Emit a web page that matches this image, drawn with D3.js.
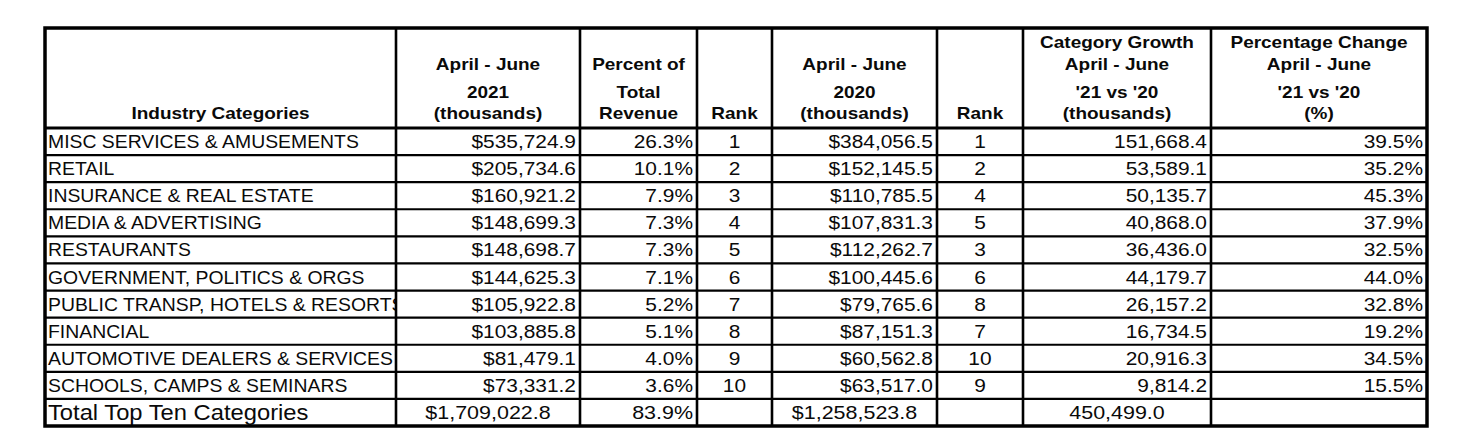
<!DOCTYPE html>
<html>
<head>
<meta charset="utf-8">
<script src="https://cdn.jsdelivr.net/npm/d3@7"></script>
<style>
  body { margin: 0; background: #fff; }
  svg text { font-family: "Liberation Sans", Arial, sans-serif; fill: #0a0a0a; }
</style>
</head>
<body>
<svg id="chart" width="1464" height="440"></svg>
<script>
// table data
const categories = [
    'MISC SERVICES & AMUSEMENTS',
    'RETAIL',
    'INSURANCE & REAL ESTATE',
    'MEDIA & ADVERTISING',
    'RESTAURANTS',
    'GOVERNMENT, POLITICS & ORGS',
    'PUBLIC TRANSP, HOTELS & RESORTS',
    'FINANCIAL',
    'AUTOMOTIVE DEALERS & SERVICES',
    'SCHOOLS, CAMPS & SEMINARS'
];
const revenue2021 = [535724.9, 205734.6, 160921.2, 148699.3, 148698.7, 144625.3, 105922.8, 103885.8, 81479.1, 73331.2];
const shareOfTotal = [0.263, 0.101, 0.079, 0.073, 0.073, 0.071, 0.052, 0.051, 0.040, 0.036];
const rank2021 = [1, 2, 3, 4, 5, 6, 7, 8, 9, 10];
const revenue2020 = [384056.5, 152145.5, 110785.5, 107831.3, 112262.7, 100445.6, 79765.6, 87151.3, 60562.8, 63517.0];
const rank2020 = [1, 2, 4, 5, 3, 6, 8, 7, 10, 9];
const growth = [151668.4, 53589.1, 50135.7, 40868.0, 36436.0, 44179.7, 26157.2, 16734.5, 20916.3, 9814.2];
const pctChange = [0.395, 0.352, 0.453, 0.379, 0.325, 0.440, 0.328, 0.192, 0.345, 0.155];

const totalLabel = 'Total Top Ten Categories';
const totals = [1709022.8, 0.839, null, 1258523.8, null, 450499.0, null];

const headers = [
    ['', '', '', 'Industry Categories'],
    ['', 'April - June', '2021', '(thousands)'],
    ['', 'Percent of', 'Total', 'Revenue'],
    ['', '', '', 'Rank'],
    ['', 'April - June', '2020', '(thousands)'],
    ['', '', '', 'Rank'],
    ['Category Growth', 'April - June', "'21 vs '20", '(thousands)'],
    ['Percentage Change', 'April - June', "'21 vs '20", '(%)']
];

const money = d3.format('$,.1f');
const pct = d3.format('.1%');
const num = d3.format(',.1f');

// layout
const colEdges = [45, 396, 580, 697, 772, 937, 1023, 1211, 1427];
const headTop = 28;
const headBottom = 128;
const tableBottom = 426;
const headBaselines = [47.5, 70, 97.5, 118.5];

// the source text is a bit wider than plain Arial, so stretch it
const stretchHead = 1.15;
const stretchCat = 1.02;
const stretchNum = 1.1;

const columns = [
    {values: categories, fmt: d => d, align: 'start', sx: stretchCat},
    {values: revenue2021, fmt: money, align: 'end', sx: stretchNum},
    {values: shareOfTotal, fmt: pct, align: 'end', sx: stretchNum},
    {values: rank2021, fmt: d => d, align: 'middle', sx: stretchNum},
    {values: revenue2020, fmt: money, align: 'end', sx: stretchNum},
    {values: rank2020, fmt: d => d, align: 'middle', sx: stretchNum},
    {values: growth, fmt: num, align: 'end', sx: stretchNum},
    {values: pctChange, fmt: pct, align: 'end', sx: stretchNum}
];
const totalAlign = ['middle', 'end', 'middle', 'middle', 'middle', 'middle', 'middle'];
const totalFmt = [money, pct, null, money, null, num, null];

const svg = d3.select('#chart');

const y = d3.scaleBand()
    .domain([...categories, totalLabel])
    .range([headBottom, tableBottom]);

const textX = (i, align) => {
    if (align === 'start') return colEdges[i] + 3;
    if (align === 'end') return colEdges[i + 1] - 4;
    return (colEdges[i] + colEdges[i + 1]) / 2;
};

const place = (x, yy, sx) => 'translate(' + x + ',' + yy + ') scale(' + sx + ',1)';

// clip each column so long labels are cut at the border
const defs = svg.append('defs');
colEdges.slice(0, -1).forEach((x0, i) => {
    defs.append('clipPath')
        .attr('id', 'clip-' + i)
        .append('rect')
        .attr('x', x0)
        .attr('y', headTop)
        .attr('width', colEdges[i + 1] - x0)
        .attr('height', tableBottom - headTop);
});

// headers
headers.forEach((lines, i) => {
    svg.append('g')
        .selectAll('text')
        .data(lines)
        .join('text')
        .attr('transform', (d, j) => place((colEdges[i] + colEdges[i + 1]) / 2, headBaselines[j], stretchHead))
        .attr('text-anchor', 'middle')
        .style('font-size', '16.5px')
        .style('font-weight', 'bold')
        .text(d => d);
});

// body cells
columns.forEach((col, i) => {
    svg.append('g')
        .attr('clip-path', 'url(#clip-' + i + ')')
        .selectAll('text')
        .data(col.values)
        .join('text')
        .attr('transform', (d, j) => place(textX(i, col.align), y(categories[j]) + y.bandwidth() / 2 + 6.5, col.sx))
        .attr('text-anchor', col.align)
        .style('font-size', '19px')
        .text(col.fmt);
});

// total row
svg.append('text')
    .attr('transform', place(textX(0, 'start'), y(totalLabel) + y.bandwidth() / 2 + 8, 1.08))
    .style('font-size', '22px')
    .text(totalLabel);

svg.append('g')
    .selectAll('text')
    .data(totals)
    .join('text')
    .attr('transform', (d, j) => place(textX(j + 1, totalAlign[j]), y(totalLabel) + y.bandwidth() / 2 + 7, 1.13))
    .attr('text-anchor', (d, j) => totalAlign[j])
    .style('font-size', '19px')
    .text((d, j) => d === null ? '' : totalFmt[j](d));

// grid lines
const grid = svg.append('g').attr('stroke', '#000');

grid.selectAll('.row-line')
    .data(y.domain().slice(1))
    .join('line')
    .attr('x1', colEdges[0])
    .attr('x2', colEdges[colEdges.length - 1])
    .attr('y1', d => y(d))
    .attr('y2', d => y(d))
    .attr('stroke-width', 2.2);

grid.append('line')
    .attr('x1', colEdges[0])
    .attr('x2', colEdges[colEdges.length - 1])
    .attr('y1', headBottom)
    .attr('y2', headBottom)
    .attr('stroke-width', 3);

grid.selectAll('.col-line')
    .data(colEdges.slice(1, -1))
    .join('line')
    .attr('x1', d => d)
    .attr('x2', d => d)
    .attr('y1', headTop)
    .attr('y2', tableBottom)
    .attr('stroke-width', 2.6);

svg.append('rect')
    .attr('x', colEdges[0])
    .attr('y', headTop)
    .attr('width', colEdges[colEdges.length - 1] - colEdges[0])
    .attr('height', tableBottom - headTop)
    .attr('fill', 'none')
    .attr('stroke', '#000')
    .attr('stroke-width', 3.5);
</script>
</body>
</html>
